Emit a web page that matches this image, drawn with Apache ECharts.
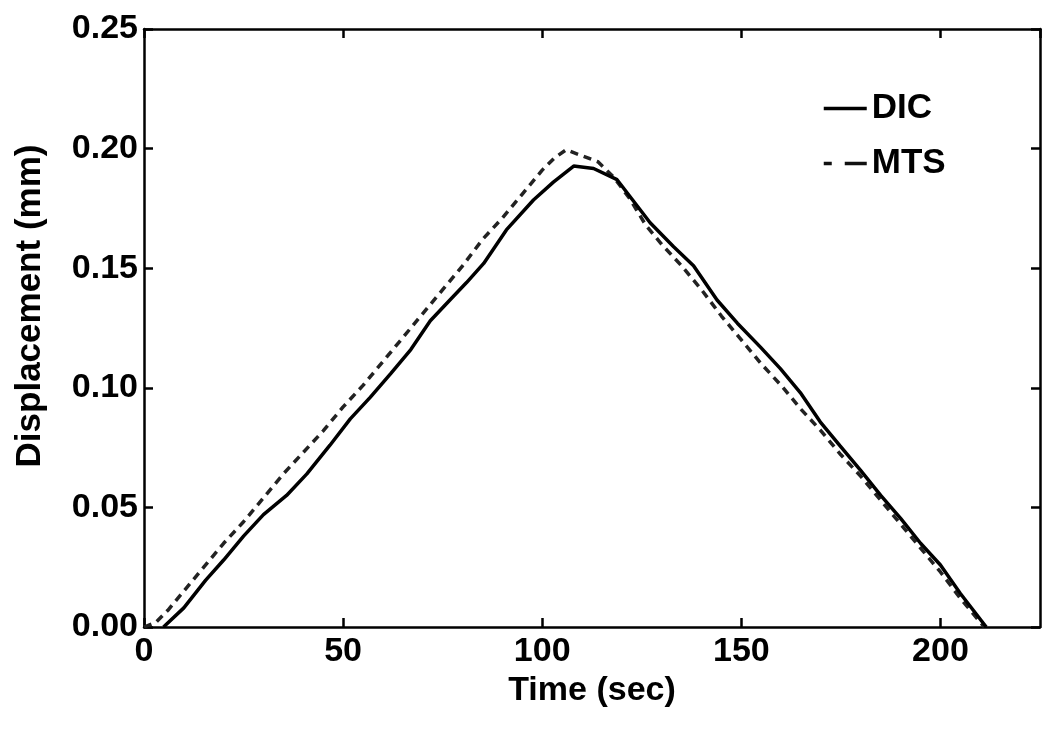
<!DOCTYPE html>
<html>
<head>
<meta charset="utf-8">
<script src="https://cdn.jsdelivr.net/npm/echarts@6/dist/echarts.min.js"></script>
<style>
html,body{margin:0;padding:0;background:#fff;}
#chart{width:1050px;height:735px;}
</style>
</head>
<body>
<div id="chart"></div>
<script>
// Data
const seriesNames = ['DIC', 'MTS'];
const dicTime = [4.9, 10, 15.5, 20, 25, 30, 35.8, 40.9, 46.7, 51.8, 56.8, 62, 67, 71.9, 77, 81, 85.3, 91, 97.8, 102.8, 107.9, 112.9, 118.8, 127.1, 133, 138, 143.9, 149, 154.8, 159.8, 164.8, 169.8, 174.8, 179.9, 185, 190, 195, 200, 205, 211.5];
const dicDisp = [0, 0.008, 0.0196, 0.028, 0.038, 0.047, 0.055, 0.064, 0.076, 0.087, 0.096, 0.106, 0.116, 0.128, 0.137, 0.144, 0.152, 0.166, 0.1785, 0.186, 0.1927, 0.1917, 0.187, 0.169, 0.159, 0.151, 0.1367, 0.127, 0.117, 0.108, 0.098, 0.0858, 0.0757, 0.0656, 0.055, 0.0454, 0.035, 0.0259, 0.014, 0];
const mtsTime = [0, 3, 6, 10, 15, 20, 25, 30, 35, 40, 45, 50, 55, 60, 65, 70, 75, 80, 85, 90, 95, 100, 103, 106, 110, 114, 118, 122, 126, 130, 135, 140, 145, 150, 155, 160, 165, 170, 175, 180, 185, 190, 195, 200, 205, 210, 211];
const mtsDisp = [0, 0.002, 0.007, 0.015, 0.025, 0.035, 0.044, 0.054, 0.064, 0.073, 0.082, 0.092, 0.101, 0.111, 0.121, 0.131, 0.141, 0.151, 0.162, 0.171, 0.181, 0.191, 0.196, 0.1995, 0.197, 0.1945, 0.188, 0.179, 0.168, 0.160, 0.151, 0.141, 0.130, 0.120, 0.110, 0.101, 0.091, 0.082, 0.072, 0.063, 0.053, 0.043, 0.033, 0.023, 0.012, 0.002, 0];
const xTicks = [0, 50, 100, 150, 200];
const yTicks = ['0.00', '0.05', '0.10', '0.15', '0.20', '0.25'];
const xTitle = 'Time (sec)';
const yTitle = 'Displacement (mm)';

const FONT = '"Liberation Sans", Arial, Helvetica, sans-serif';
const zip = (a, b) => a.map((v, i) => [v, b[i]]);

const chart = echarts.init(document.getElementById('chart'), null, {renderer: 'canvas'});

const axisLineStyle = {color: '#000', width: 2.5};
const tickStyle = {show: true, inside: true, length: 9, lineStyle: {color: '#000', width: 2.5}};
const hiddenSymbol = {color: 'rgba(0,0,0,0)', borderWidth: 0, opacity: 0};

chart.setOption({
  animation: false,
  backgroundColor: '#fff',
  grid: {left: 144, right: 10, top: 29, bottom: 108, containLabel: false},
  xAxis: [{
    type: 'value', min: 0, max: 225, interval: 50, position: 'bottom',
    name: xTitle, nameLocation: 'middle', nameGap: 42,
    nameTextStyle: {fontFamily: FONT, fontWeight: 'bold', fontSize: 34, color: '#000'},
    axisLine: {show: true, onZero: false, lineStyle: axisLineStyle},
    axisTick: tickStyle,
    axisLabel: {show: true, margin: 8, fontFamily: FONT, fontWeight: 'bold', fontSize: 34, color: '#000',
      showMaxLabel: false,
      formatter: v => xTicks.includes(v) ? String(v) : ''},
    splitLine: {show: false}
  }, {
    type: 'value', min: 0, max: 225, interval: 50, position: 'top',
    axisLine: {show: true, onZero: false, lineStyle: axisLineStyle},
    axisTick: tickStyle, axisLabel: {show: false}, splitLine: {show: false}
  }],
  yAxis: [{
    type: 'value', min: 0, max: 0.25, interval: 0.05, position: 'left',
    axisLine: {show: true, onZero: false, lineStyle: axisLineStyle},
    axisTick: tickStyle,
    axisLabel: {show: true, margin: 6, fontFamily: FONT, fontWeight: 'bold', fontSize: 34, color: '#000',
      formatter: v => yTicks[Math.round(v / 0.05)] || ''},
    splitLine: {show: false}
  }, {
    type: 'value', min: 0, max: 0.25, interval: 0.05, position: 'right',
    axisLine: {show: true, onZero: false, lineStyle: axisLineStyle},
    axisTick: tickStyle, axisLabel: {show: false}, splitLine: {show: false}
  }],
  legend: {
    orient: 'vertical', left: 822, top: 91, padding: 0,
    itemWidth: 43, itemHeight: 14, itemGap: 20,
    textStyle: {fontFamily: FONT, fontWeight: 'bold', fontSize: 35, color: '#000', lineHeight: 34},
    data: [
      {name: seriesNames[0], lineStyle: {type: 'solid', width: 3.5, color: '#000'}, itemStyle: hiddenSymbol},
      {name: seriesNames[1], lineStyle: {type: [8, 13, 22, 0], width: 3.5, color: '#111'}, itemStyle: hiddenSymbol}
    ],
    selectedMode: false
  },
  series: [{
    name: seriesNames[0], type: 'line', xAxisIndex: 0, yAxisIndex: 0,
    data: zip(dicTime, dicDisp), symbol: 'none', smooth: false,
    lineStyle: {color: '#000', width: 3.5, type: 'solid'},
    itemStyle: {color: '#000'}, z: 3
  }, {
    name: seriesNames[1], type: 'line', xAxisIndex: 0, yAxisIndex: 0,
    data: zip(mtsTime, mtsDisp), symbol: 'none', smooth: false,
    lineStyle: {color: '#222', width: 3.5, type: [8, 6]},
    itemStyle: {color: '#222'}, z: 2
  }],
  graphic: [{
    type: 'text',
    x: 30, y: 306,
    rotation: Math.PI / 2,
    style: {text: yTitle, fontFamily: FONT, fontWeight: 'bold', fontSize: 35, fill: '#000', textAlign: 'center', textVerticalAlign: 'middle'}
  }]
});
</script>
</body>
</html>
